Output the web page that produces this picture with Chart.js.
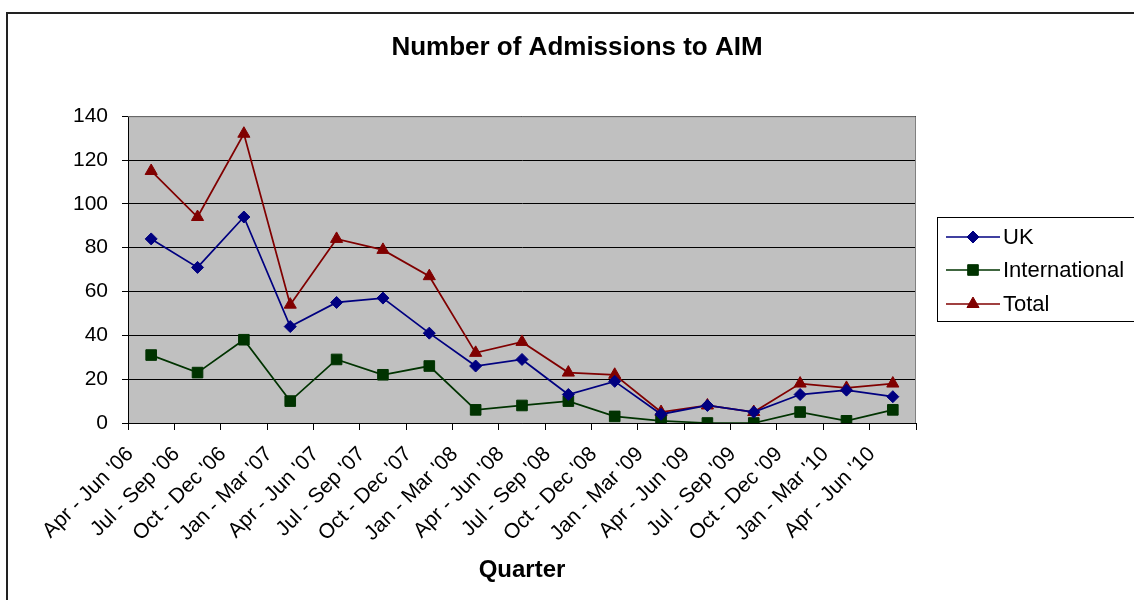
<!DOCTYPE html>
<html>
<head>
<meta charset="utf-8">
<script src="https://cdn.jsdelivr.net/npm/chart.js@4"></script>
<style>
  html, body { margin: 0; padding: 0; background: #fff; overflow: hidden; width: 1134px; height: 600px; }
  #frame { position: absolute; left: 6px; top: 12px; width: 1200px; height: 700px; border-left: 2px solid #222; border-top: 2px solid #222; }
  #wrap { position: absolute; left: 0; top: 0; width: 1154px; height: 600px; }
</style>
</head>
<body>
<div id="frame"></div>
<div id="wrap"><canvas id="c" width="1154" height="600"></canvas></div>
<script>
const quarters = ["Apr - Jun '06", "Jul - Sep '06", "Oct - Dec '06", "Jan - Mar '07", "Apr - Jun '07", "Jul - Sep '07", "Oct - Dec '07", "Jan - Mar '08", "Apr - Jun '08", "Jul - Sep '08", "Oct - Dec '08", "Jan - Mar '09", "Apr - Jun '09", "Jul - Sep '09", "Oct - Dec '09", "Jan - Mar '10", "Apr - Jun '10"];
const ukValues = [84, 71, 94, 44, 55, 57, 41, 26, 29, 13, 19, 4, 8, 5, 13, 15, 12];
const internationalValues = [31, 23, 38, 10, 29, 22, 26, 6, 8, 10, 3, 1, 0, 0, 5, 1, 6];
const totalValues = [115, 94, 132, 54, 84, 79, 67, 32, 37, 23, 22, 5, 8, 5, 18, 16, 18];
const yTickValues = [0, 20, 40, 60, 80, 100, 120, 140];
const chartTitle = "Number of Admissions to AIM";
const xAxisTitle = "Quarter";

const FONT = "Arial, 'Liberation Sans', sans-serif";

const plotBg = {
  id: 'plotBg',
  beforeDraw(chart) {
    const a = chart.chartArea, ctx = chart.ctx;
    ctx.save();
    ctx.fillStyle = '#C0C0C0';
    ctx.fillRect(a.left, a.top, a.right - a.left, a.bottom - a.top);
    ctx.restore();
  },
  beforeDatasetsDraw(chart) {
    const a = chart.chartArea, ctx = chart.ctx;
    ctx.save();
    ctx.strokeStyle = '#808080';
    ctx.lineWidth = 1;
    ctx.beginPath();
    ctx.moveTo(a.left, a.top + 0.5);
    ctx.lineTo(a.right - 0.5, a.top + 0.5);
    ctx.lineTo(a.right - 0.5, a.bottom);
    ctx.stroke();
    ctx.restore();
  }
};

function drawMarker(ctx, style, r, x, y, color) {
  if (Chart.helpers && Chart.helpers.drawPoint) {
    ctx.fillStyle = color; ctx.strokeStyle = color; ctx.lineWidth = 1;
    Chart.helpers.drawPoint(ctx, {pointStyle: style, radius: r, rotation: 0, borderWidth: 1}, x, y);
    return;
  }
  ctx.fillStyle = color; ctx.strokeStyle = color;
  ctx.beginPath();
  if (style === 'rectRot') {
    ctx.moveTo(x, y - r); ctx.lineTo(x + r, y); ctx.lineTo(x, y + r); ctx.lineTo(x - r, y);
  } else if (style === 'rect') {
    const s = r * Math.SQRT1_2; ctx.rect(x - s, y - s, 2 * s, 2 * s);
  } else {
    ctx.moveTo(x, y - r); ctx.lineTo(x + r * 0.866, y + r / 2); ctx.lineTo(x - r * 0.866, y + r / 2);
  }
  ctx.closePath(); ctx.fill(); ctx.stroke();
}

const boxLegend = {
  id: 'boxLegend',
  afterDraw(chart) {
    const ctx = chart.ctx;
    ctx.save();
    ctx.strokeStyle = '#000';
    ctx.lineWidth = 1;
    ctx.strokeRect(937.5, 217.5, 300, 104);
    const ys = [237, 270, 304];
    chart.data.datasets.forEach((ds, i) => {
      const y = ys[i];
      ctx.strokeStyle = ds.borderColor;
      ctx.lineWidth = 1.5;
      ctx.beginPath(); ctx.moveTo(946, y); ctx.lineTo(1000, y); ctx.stroke();
      drawMarker(ctx, ds.pointStyle, ds.pointRadius, 973, y, ds.borderColor);
      ctx.fillStyle = '#000';
      ctx.font = '22px ' + FONT;
      ctx.textBaseline = 'middle';
      ctx.textAlign = 'left';
      ctx.fillText(ds.label, 1003, y + 1);
    });
    ctx.restore();
  }
};

new Chart(document.getElementById('c'), {
  type: 'line',
  data: {
    labels: quarters,
    datasets: [
      { label: 'UK', data: ukValues, borderColor: '#000080', backgroundColor: '#000080', pointStyle: 'rectRot', pointRadius: 6, pointHoverRadius: 6, borderWidth: 1.75, pointBorderWidth: 1, tension: 0 },
      { label: 'International', data: internationalValues, borderColor: '#003300', backgroundColor: '#003300', pointStyle: 'rect', pointRadius: 7.5, pointHoverRadius: 7.5, borderWidth: 1.75, pointBorderWidth: 1, tension: 0 },
      { label: 'Total', data: totalValues, borderColor: '#800000', backgroundColor: '#800000', pointStyle: 'triangle', pointRadius: 7, pointHoverRadius: 7, borderWidth: 1.75, pointBorderWidth: 1, tension: 0 }
    ]
  },
  options: {
    responsive: false,
    animation: false,
    events: [],
    layout: { padding: { left: 0, right: 0, top: 0, bottom: 0 } },
    plugins: {
      legend: { display: false },
      tooltip: { enabled: false },
      title: {
        display: true,
        text: chartTitle,
        color: '#000',
        font: { family: FONT, size: 26, weight: 'bold', lineHeight: 1.2 },
        padding: { top: 32, bottom: 53 }
      }
    },
    scales: {
      x: {
        type: 'category',
        offset: true,
        grid: { offset: true, drawOnChartArea: false, drawTicks: true, tickLength: 7, color: '#000' },
        border: { display: true, color: '#000', width: 1 },
        ticks: {
          autoSkip: false, maxRotation: 45, minRotation: 45, color: '#000',
          font: { family: FONT, size: 21 }, padding: 12, labelOffset: -21
        },
        title: {
          display: true, text: xAxisTitle, color: '#000',
          font: { family: FONT, size: 24, weight: 'bold', lineHeight: 1.2 },
          padding: { top: 0, bottom: 15 }
        },
        afterFit(scale) { scale.height = 177; }
      },
      y: {
        min: 0, max: 140,
        afterBuildTicks(scale) { scale.ticks = yTickValues.map(v => ({ value: v })); },
        grid: { color: '#000', lineWidth: 1, tickLength: 6, drawTicks: true },
        border: { display: true, color: '#000', width: 1 },
        ticks: { color: '#000', font: { family: FONT, size: 21 }, padding: 14 },
        afterFit(scale) { scale.width = 128; }
      },
      yRight: {
        position: 'right',
        display: true,
        grid: { display: false, drawTicks: false },
        border: { display: false },
        ticks: { display: false },
        afterFit(scale) { scale.width = 1154 - 916; }
      }
    }
  },
  plugins: [plotBg, boxLegend]
});
</script>
</body>
</html>
